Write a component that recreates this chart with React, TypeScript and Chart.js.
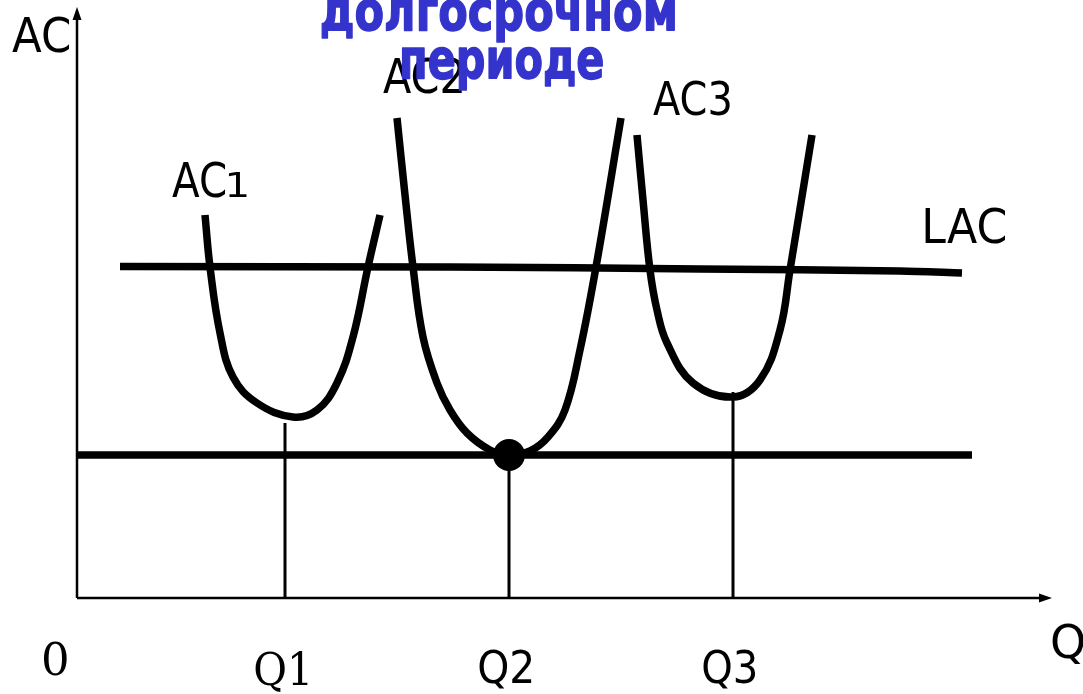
import React, { useEffect, useRef } from "react";
import { Chart, registerables } from "chart.js";

Chart.register(...registerables);

// ---- Data (abstract units: quantity Q on x, average cost AC on y) ----
const ac1Q = [1.28, 1.33, 1.43, 1.56, 1.8, 2.16, 2.4, 2.6, 2.76, 2.91, 3.03];
const ac1Cost = [3.83, 3.31, 2.65, 2.21, 1.95, 1.81, 1.88, 2.15, 2.61, 3.31, 3.83];

const ac2Q = [3.2, 3.28, 3.36, 3.46, 3.6, 3.73, 3.9, 4.13, 4.32, 4.53, 4.71, 4.88, 5.03, 5.19, 5.44];
const ac2Cost = [4.8, 4.03, 3.31, 2.61, 2.15, 1.88, 1.65, 1.48, 1.43, 1.47, 1.61, 1.88, 2.48, 3.31, 4.8];

const ac3Q = [5.6, 5.66, 5.73, 5.8, 5.9, 6.16, 6.56, 6.83, 7.03, 7.13, 7.35];
const ac3Cost = [4.63, 3.98, 3.28, 2.88, 2.55, 2.15, 2.01, 2.18, 2.68, 3.28, 4.63];

const lacQ = [0.43, 3.73, 6.23, 8.23, 8.85];
const lacCost = [3.315, 3.31, 3.29, 3.27, 3.25];

const minCostQ = [0, 8.95];
const minCostLevel = 1.43;

const qValues = [2.08, 4.32, 6.56];
const qTops = [1.75, 1.43, 2.06];
const qLabels = ["Q1", "Q2", "Q3"];

const axisXEnd = 9.75;
const axisYEnd = 5.91;

const curveLabels = ["AC1", "AC2", "AC3", "LAC"];
const titleLines = ["долгосрочном", "периоде"];

const zip = (xs: number[], ys: number[]) => xs.map((x, i) => ({ x, y: ys[i] }));

function drawFit(
  ctx: CanvasRenderingContext2D,
  text: string,
  left: number,
  baseline: number,
  width: number | null,
  font: string,
  color = "#000",
  stroke = 0
) {
  ctx.save();
  ctx.font = font;
  ctx.fillStyle = color;
  ctx.strokeStyle = color;
  ctx.textAlign = "left";
  ctx.textBaseline = "alphabetic";
  const m = ctx.measureText(text);
  const ink = m.actualBoundingBoxLeft + m.actualBoundingBoxRight;
  ctx.translate(left, baseline);
  if (width) ctx.scale(width / ink, 1);
  ctx.fillText(text, m.actualBoundingBoxLeft, 0);
  if (stroke) {
    ctx.lineWidth = stroke;
    ctx.lineJoin = "round";
    ctx.strokeText(text, m.actualBoundingBoxLeft, 0);
  }
  ctx.restore();
}

const annotationPlugin = {
  id: "annotations",
  afterDatasetsDraw(chart: any) {
    const ctx: CanvasRenderingContext2D = chart.ctx;
    const xs = chart.scales.x;
    const ys = chart.scales.y;
    const ox = xs.getPixelForValue(0);
    const oy = ys.getPixelForValue(0);

    // arrowheads
    ctx.save();
    ctx.fillStyle = "#000";
    const yTip = ys.getPixelForValue(axisYEnd);
    ctx.beginPath();
    ctx.moveTo(ox, yTip);
    ctx.lineTo(ox - 4.5, yTip + 13);
    ctx.lineTo(ox + 4.5, yTip + 13);
    ctx.closePath();
    ctx.fill();
    const xTip = xs.getPixelForValue(axisXEnd);
    ctx.beginPath();
    ctx.moveTo(xTip, oy);
    ctx.lineTo(xTip - 13, oy - 4.5);
    ctx.lineTo(xTip - 13, oy + 4.5);
    ctx.closePath();
    ctx.fill();
    ctx.restore();

    const sans = (s: number) => `${s}px 'DejaVu Sans'`;
    const serif = (s: number) => `${s}px 'DejaVu Serif'`;

    // axis names
    drawFit(ctx, "AC", 12, 52, 57, sans(48));
    drawFit(ctx, "Q", 1052, 658, null, sans(46));
    drawFit(ctx, "0", 43, 675, 24, serif(45));

    // curve labels
    drawFit(ctx, "AC", 172, 197, 53, sans(48));
    drawFit(ctx, curveLabels[0].slice(2), 228, 197, 19, sans(34));
    drawFit(ctx, curveLabels[1], 383, 93, 79, sans(48));
    drawFit(ctx, curveLabels[2], 653, 115, 77, sans(46));
    drawFit(ctx, curveLabels[3], 925, 243, 80, sans(48));

    // Q tick labels
    qValues.forEach((q, i) => {
      const px = xs.getPixelForValue(q);
      const font = i === 0 ? serif(45) : sans(45);
      drawFit(ctx, qLabels[i], px - 30, i === 0 ? 685 : 683, 53, font);
    });

    // title (partially cut off at the top)
    drawFit(ctx, titleLines[0], 322, 30, 353, `bold 56px 'DejaVu Sans'`, "#3434cc", 1.5);
    drawFit(ctx, titleLines[1], 402, 78, 201, `bold 56px 'DejaVu Sans'`, "#3434cc", 1.5);
  },
};

export default function App() {
  const ref = useRef<HTMLCanvasElement | null>(null);

  useEffect(() => {
    if (!ref.current) return;
    const curve = (data: { x: number; y: number }[], width = 7.5) => ({
      data,
      showLine: true,
      borderColor: "#000",
      backgroundColor: "#000",
      borderWidth: width,
      pointRadius: 0,
      fill: false,
      tension: 0.4,
      borderJoinStyle: "round" as const,
    });
    const straight = (data: { x: number; y: number }[], width: number) => ({
      data,
      showLine: true,
      borderColor: "#000",
      backgroundColor: "#000",
      borderWidth: width,
      pointRadius: 0,
      fill: false,
      tension: 0,
    });

    const datasets: any[] = [
      straight([{ x: 0, y: 0 }, { x: 0, y: axisYEnd - 0.1 }], 2.5),
      straight([{ x: 0, y: 0 }, { x: axisXEnd - 0.1, y: 0 }], 2.5),
      ...qValues.map((q, i) => straight([{ x: q, y: 0 }, { x: q, y: qTops[i] }], 3)),
      straight(zip(minCostQ, [minCostLevel, minCostLevel]), 7.5),
      { ...curve(zip(lacQ, lacCost)), tension: 0.3 },
      curve(zip(ac1Q, ac1Cost)),
      curve(zip(ac2Q, ac2Cost)),
      curve(zip(ac3Q, ac3Cost)),
      {
        data: [{ x: qValues[1], y: minCostLevel }],
        pointRadius: 16,
        pointBackgroundColor: "#000",
        pointBorderWidth: 0,
        showLine: false,
      },
    ];

    const chart = new Chart(ref.current, {
      type: "scatter",
      data: { datasets },
      options: {
        animation: false,
        responsive: false,
        layout: { padding: 0, autoPadding: false },
        plugins: { legend: { display: false }, tooltip: { enabled: false } },
        scales: {
          x: { type: "linear", display: false, min: -0.77, max: 10.06 },
          y: { type: "linear", display: false, min: -0.96, max: 5.98 },
        },
      },
      plugins: [annotationPlugin],
    });
    return () => chart.destroy();
  }, []);

  return (
    <div style={{ position: "fixed", left: 0, top: 0, width: 1083, height: 694, background: "#fff" }}>
      <canvas ref={ref} width={1083} height={694} />
    </div>
  );
}
